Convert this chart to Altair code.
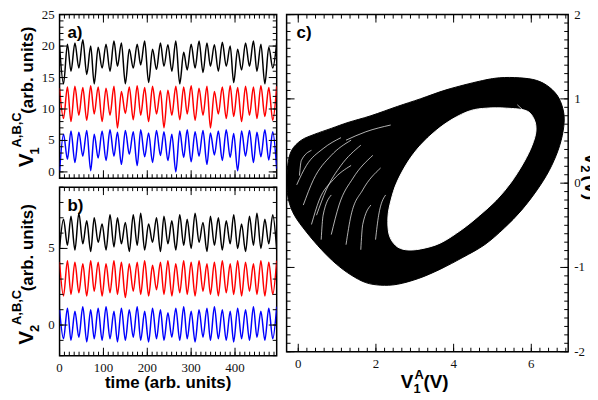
import altair as alt
import pandas as pd

# ---------------- data ----------------
# instants of the successive extrema (arb. units)
t_knots = [0, 9, 18, 26, 35, 44, 53, 62, 71, 79, 88, 97, 106, 115, 124, 132, 141, 150, 159, 168,
           177, 185, 194, 203, 212, 221, 230, 238, 247, 256, 265, 274, 283, 291, 300, 309, 318, 327,
           336, 344, 353, 362, 371, 380, 389, 397, 406, 415, 424, 433, 442, 450, 459, 468, 477, 486, 495]

# panel a) V1 of oscillators A (black), B (red), C (blue)
a_black = [20.0, 14.0, 20.3, 16.0, 20.5, 16.5, 21.0, 15.5, 20.0, 14.0, 19.8, 16.5, 20.3, 16.0, 20.8,
           16.8, 20.5, 14.0, 19.5, 16.5, 20.3, 17.0, 20.8, 14.2, 19.5, 16.3, 20.5, 16.8, 20.2, 16.0,
           20.8, 14.0, 19.0, 16.2, 20.3, 16.5, 20.8, 15.8, 20.5, 16.8, 20.2, 16.0, 20.6, 16.8, 20.0,
           14.2, 19.5, 16.2, 20.5, 16.8, 20.8, 16.0, 20.3, 14.0, 19.8, 16.5, 20.5]
a_red = [13.3, 8.5, 13.5, 8.0, 13.6, 9.0, 13.4, 8.2, 13.7, 9.2, 13.5, 8.0, 13.3, 9.0, 13.6, 7.0,
         12.8, 9.3, 13.5, 8.3, 13.7, 9.0, 13.4, 8.0, 13.6, 9.2, 12.9, 7.0, 13.0, 9.0, 13.6, 8.3,
         13.5, 9.2, 13.7, 8.2, 13.3, 9.0, 13.6, 7.0, 12.8, 9.2, 13.5, 8.5, 13.7, 8.8, 13.4, 8.0,
         13.6, 9.0, 13.5, 8.5, 13.7, 8.8, 13.4, 8.2, 13.6]
a_blue = [0.0, 6.0, 2.0, 6.5, 1.5, 6.3, 2.5, 6.6, 0.2, 6.0, 2.2, 6.5, 1.8, 6.7, 2.5, 6.3, 1.2,
          6.6, 2.8, 6.4, 1.0, 6.7, 2.4, 6.2, 1.5, 6.6, 2.6, 6.4, 1.8, 6.0, 0.0, 6.5, 2.3, 6.7,
          1.6, 6.4, 2.5, 6.6, 1.2, 6.2, 2.7, 6.5, 1.8, 6.7, 2.3, 6.1, 0.2, 6.5, 2.5, 6.6, 1.5,
          6.3, 2.4, 6.7, 1.9, 6.4, 0.5]

# panel b) V2 of oscillators A, B, C
b_black = [5.0, 6.9, 5.2, 7.1, 4.9, 7.3, 5.3, 6.8, 4.8, 7.0, 5.4, 6.6, 4.9, 7.2, 5.1, 7.0, 5.3,
           6.7, 4.8, 7.2, 5.2, 7.3, 4.9, 6.6, 5.4, 7.0, 4.8, 7.1, 5.3, 6.8, 4.9, 7.2, 5.2, 6.9,
           5.0, 7.3, 5.4, 6.7, 4.8, 7.1, 5.2, 7.0, 4.9, 6.8, 5.3, 7.2, 5.0, 6.6, 4.8, 7.1, 5.2,
           7.3, 5.0, 6.9, 5.3, 7.2, 4.9]
b_red = [4.1, 1.9, 4.2, 2.0, 4.1, 2.1, 4.0, 1.9, 4.2, 2.2, 4.1, 1.9, 4.0, 2.1, 4.2, 2.0, 4.1,
         1.8, 4.0, 2.2, 4.1, 2.0, 4.2, 1.9, 3.9, 2.3, 4.1, 2.0, 4.2, 1.9, 4.0, 2.1, 4.2, 2.0,
         4.1, 1.9, 4.2, 2.2, 4.0, 2.0, 4.1, 1.9, 4.2, 2.1, 4.0, 2.0, 4.2, 1.9, 4.1, 2.2, 4.0,
         2.0, 4.2, 1.9, 4.1, 2.0, 4.2]
b_blue = [1.0, -0.9, 1.1, -1.0, 0.9, -0.8, 1.2, -1.1, 1.0, -0.9, 1.1, -1.0, 1.2, -0.9, 0.9,
          -1.1, 1.1, -1.0, 1.0, -0.8, 1.2, -1.0, 0.9, -1.1, 1.1, -0.9, 1.0, -1.0, 0.8, -0.8,
          1.1, -1.0, 1.2, -0.9, 0.9, -1.1, 1.0, -0.8, 1.1, -1.0, 1.2, -0.9, 1.0, -1.0, 0.9,
          -1.1, 1.1, -0.9, 1.0, -1.0, 1.2, -0.8, 0.9, -1.0, 1.1, -0.9, 1.2]

# panel c) attractor (V1A, V2A): outer envelope of the band and inner hole
outer_x = [-0.27, -0.17, 0.08, 0.42, 0.85, 1.28, 1.87, 2.55, 3.14, 3.83, 4.67, 5.18, 5.69, 6.13,
           6.46, 6.71, 6.84, 6.82, 6.69, 6.46, 6.15, 5.75, 5.31, 4.80, 4.24, 3.66, 3.10, 2.55,
           2.12, 1.74, 1.36, 0.98, 0.60, 0.21, -0.10, -0.25, -0.29]
outer_y = [0.21, 0.39, 0.51, 0.58, 0.65, 0.72, 0.80, 0.91, 1.00, 1.11, 1.21, 1.25, 1.25, 1.22,
           1.14, 1.01, 0.82, 0.62, 0.39, 0.15, -0.08, -0.32, -0.53, -0.73, -0.88, -1.02, -1.13,
           -1.20, -1.21, -1.18, -1.09, -0.96, -0.79, -0.58, -0.38, -0.20, -0.02]
hole_x = [4.85, 5.36, 5.87, 6.07, 6.12, 6.02, 5.81, 5.48, 5.10, 4.67, 4.21, 3.66, 3.15, 2.77,
          2.51, 2.34, 2.31, 2.39, 2.54, 2.82, 3.15, 3.54, 3.97, 4.43]
hole_y = [0.89, 0.89, 0.86, 0.76, 0.62, 0.45, 0.25, 0.01, -0.20, -0.38, -0.55, -0.71, -0.78,
          -0.79, -0.74, -0.61, -0.40, -0.20, 0.01, 0.25, 0.45, 0.62, 0.76, 0.86]
# thin white gaps between trajectories
streak_id = [1, 1, 1, 1, 2, 2, 2, 2, 3, 3, 3, 3, 4, 4, 4, 4, 5, 5, 5, 5, 6, 6, 6, 7, 7, 7, 8, 8,
             9, 9, 9, 10, 10, 10, 10, 11, 11, 11, 12, 12, 12]
streak_x = [0.13, 0.39, 0.85, 1.36, 0.47, 0.72, 1.10, 1.61, 0.85, 1.05, 1.41, 1.92, -0.04, 0.21,
            0.64, 1.10, 1.23, 1.36, 1.66, 2.12, 0.59, 0.64, 0.85, 1.23, 1.74, 2.38, 5.64, 5.95,
            0.03, 0.08, 0.34, 0.34, 0.54, 0.90, 1.36, 1.61, 1.66, 1.87, 1.99, 2.07, 2.25]
streak_y = [-0.26, 0.04, 0.33, 0.51, -0.38, -0.08, 0.21, 0.45, -0.61, -0.26, 0.06, 0.33, -0.02,
            0.21, 0.41, 0.54, -0.73, -0.38, -0.08, 0.18, -0.67, -0.38, -0.14, 0.51, 0.61, 0.69,
            0.93, 0.80, 0.09, 0.27, 0.39, -0.49, -0.20, 0.04, 0.21, -0.79, -0.49, -0.26, -0.67,
            -0.38, -0.14]

# tick labels
t_labels = [0, 100, 200, 300, 400]
a_labels = [0, 5, 10, 15, 20, 25]
b_labels = [0, 5]
cx_labels = [0, 2, 4, 6]
cy_labels = [-2, -1, 0, 1, 2]

# ---------------- layout ----------------
W_L, H_A, H_B = 219, 165, 170
W_C, H_C = 284, 340
T_DOM = [0, 495]
A_DOM = [-1, 25]
B_DOM = [-2, 9]
CX_DOM = [-0.3, 6.95]
CY_DOM = [-2, 2]
SERIF = "Liberation Serif"
SANS = "Liberation Sans"
one = pd.DataFrame({"k": [0]})
color_scale = alt.Scale(domain=["A", "B", "C"], range=["#000000", "#ff0000", "#0000ff"])


def sc(dom):
    return alt.Scale(domain=dom, nice=False, zero=False)


def ticks(xminor, xmajor, yminor, ymajor, xdom, ydom, w, h):
    out = []
    for vals, L in ((xminor, 4), (xmajor, 8)):
        base = alt.Chart(pd.DataFrame({"p": vals})).mark_rule(color="black", strokeWidth=1)
        x = alt.X("p:Q", scale=sc(xdom), axis=None)
        out.append(base.encode(x=x, y=alt.value(h), y2=alt.value(h - L)))
        out.append(base.encode(x=x, y=alt.value(0), y2=alt.value(L)))
    for vals, L in ((yminor, 4), (ymajor, 8)):
        base = alt.Chart(pd.DataFrame({"p": vals})).mark_rule(color="black", strokeWidth=1)
        y = alt.Y("p:Q", scale=sc(ydom), axis=None)
        out.append(base.encode(y=y, x=alt.value(0), x2=alt.value(L)))
        out.append(base.encode(y=y, x=alt.value(w), x2=alt.value(w - L)))
    return out


def xlabels(vals, dom, h):
    d = pd.DataFrame({"p": vals, "lab": [str(v) for v in vals]})
    return alt.Chart(d).mark_text(font=SERIF, fontSize=13, color="#111", align="center",
                                  baseline="middle").encode(
        x=alt.X("p:Q", scale=sc(dom), axis=None), y=alt.value(h + 12), text="lab:N")


def ylabels(vals, dom, xpos, align):
    d = pd.DataFrame({"p": vals, "lab": [str(v) for v in vals]})
    return alt.Chart(d).mark_text(font=SERIF, fontSize=13, color="#111", align=align,
                                  baseline="middle").encode(
        y=alt.Y("p:Q", scale=sc(dom), axis=None), x=alt.value(xpos), text="lab:N")


def txt(s, x, y, size, angle=0, align="left", baseline="alphabetic"):
    return alt.Chart(one).mark_text(text=s, fontSize=size, font=SANS, fontWeight="bold",
                                    angle=angle, align=align, baseline=baseline,
                                    color="black").encode(x=alt.value(x), y=alt.value(y))


def left_title(sub, h):
    return [
        txt("V", -27, h - 11, 21, angle=270),
        txt(sub, -21, h - 24, 13, angle=270),
        txt("A,B,C", -39, h - 31, 13, angle=270),
        txt("(arb. units)", -27, h - 65, 17, angle=270),
    ]


def series_df(vals_list):
    frames = []
    for name, vals in zip(["A", "B", "C"], vals_list):
        frames.append(pd.DataFrame({"t": t_knots, "v": vals, "s": name}))
    return pd.concat(frames, ignore_index=True)


t_minor = [i * 100 / 9 for i in range(45)]


def ts_panel(df, ydom, yvals, yminor, h, label, sub, show_x):
    lines = alt.Chart(df).mark_line(interpolate="monotone", strokeWidth=1.5, clip=True).encode(
        x=alt.X("t:Q", scale=sc(T_DOM), axis=None),
        y=alt.Y("v:Q", scale=sc(ydom), axis=None),
        color=alt.Color("s:N", scale=color_scale, legend=None),
    )
    layers = [lines] + ticks(t_minor, t_labels, yminor, yvals, T_DOM, ydom, W_L, h)
    layers.append(ylabels(yvals, ydom, -5, "right"))
    if show_x:
        layers.append(xlabels(t_labels, T_DOM, h))
        layers.append(txt("time (arb. units)", W_L / 2, h + 33, 17, align="center"))
    layers.append(txt(label, 8, 24, 17))
    layers += left_title(sub, h)
    return alt.layer(*layers).properties(width=W_L, height=h)


pa = ts_panel(series_df([a_black, a_red, a_blue]), A_DOM, a_labels,
              list(range(-1, 26)), H_A, "a)", "1", False)
pb = ts_panel(series_df([b_black, b_red, b_blue]), B_DOM, b_labels,
              list(range(-2, 10)), H_B, "b)", "2", True)

# ---------------- panel c ----------------
df_outer = pd.DataFrame({"x": outer_x, "y": outer_y, "i": range(len(outer_x))})
df_hole = pd.DataFrame({"x": hole_x, "y": hole_y, "i": range(len(hole_x))})
df_streak = pd.DataFrame({"x": streak_x, "y": streak_y, "g": streak_id, "i": range(len(streak_x))})

cxs = sc(CX_DOM)
cys = sc(CY_DOM)
outer = alt.Chart(df_outer).mark_line(fill="black", stroke="black", strokeWidth=1,
                                      interpolate="cardinal-closed", clip=True).encode(
    x=alt.X("x:Q", scale=cxs, axis=None),
    y=alt.Y("y:Q", scale=cys, axis=None),
    order=alt.Order("i:Q"),
)
hole = alt.Chart(df_hole).mark_line(fill="white", stroke="white", strokeWidth=1,
                                    interpolate="cardinal-closed").encode(
    x=alt.X("x:Q", scale=cxs, axis=None),
    y=alt.Y("y:Q", scale=cys, axis=None),
    order=alt.Order("i:Q"),
)
streaks = alt.Chart(df_streak).mark_line(color="white", strokeWidth=0.7,
                                         interpolate="monotone").encode(
    x=alt.X("x:Q", scale=cxs, axis=None),
    y=alt.Y("y:Q", scale=cys, axis=None),
    detail="g:N",
    order=alt.Order("i:Q"),
)
cx_minor = [v for v in (i * 2 / 9 for i in range(32)) if v <= 6.95]
cy_minor = [-2 + i * 0.1 for i in range(41)]
c_layers = [outer, hole, streaks] + ticks(cx_minor, cx_labels, cy_minor, cy_labels,
                                          CX_DOM, CY_DOM, W_C, H_C)
c_layers += [
    xlabels(cx_labels, CX_DOM, H_C),
    ylabels(cy_labels, CY_DOM, W_C + 6, "left"),
    txt("c)", 10, 24, 17),
    # x title  V1^A(V)
    txt("V", 115, 377, 19),
    txt("1", 128, 382, 13),
    txt("A", 129, 368, 13),
    txt("(V)", 138, 377, 19),
    # right title  V2^A (V), cut by the page edge as in the original
    txt("V", 301, 139, 19, angle=90),
    txt("2", 297, 152, 13, angle=90),
    txt("(V)", 301, 162, 19, angle=90),
]
pc = alt.layer(*c_layers).properties(width=W_C, height=H_C)

chart = alt.hconcat(alt.vconcat(pa, pb, spacing=5), pc, spacing=6).properties(
    background="white",
    padding={"left": 2, "top": -2, "right": -11, "bottom": -2},
).configure_view(stroke="black", strokeWidth=1.5)

chart.save("out.html", embed_options={"renderer": "svg", "actions": False})
